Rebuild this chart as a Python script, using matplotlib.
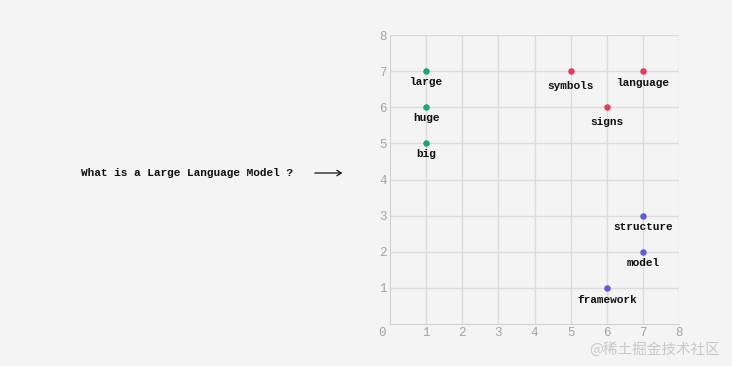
import matplotlib
matplotlib.use("Agg")
import matplotlib.pyplot as plt

words = ["large", "huge", "big", "symbols", "language", "signs",
         "structure", "model", "framework"]
x_vals = [1, 1, 1, 5, 7, 6, 7, 7, 6]
y_vals = [7, 6, 5, 7, 7, 6, 3, 2, 1]
groups = ["size", "size", "size", "lang", "lang", "lang",
          "struct", "struct", "struct"]
group_colors = {"size": "#17a77b", "lang": "#e63b5c", "struct": "#5d5ce0"}
ticks = [1, 2, 3, 4, 5, 6, 7, 8]
title_text = "What is a Large Language Model ?"
watermark = "@稀土掘金技术社区"

# label offsets below each point (pixels)
label_dy = [-11, -11, -11, -15, -12, -15, -11, -11, -12]

bg = "#f4f4f4"
mono = ["Liberation Mono", "DejaVu Sans Mono"]

fig = plt.figure(figsize=(7.32, 3.66), dpi=100, facecolor=bg)
ax = fig.add_axes([390/732, 1-324/366, 289/732, 289/366])
ax.set_facecolor(bg)
ax.set_xlim(0, 8)
ax.set_ylim(0, 8)
ax.set_xticks(ticks)
ax.set_yticks(ticks)
ax.grid(True, color="#dcdcdc", linewidth=1)
ax.set_axisbelow(True)
for s in ["top", "right"]:
    ax.spines[s].set_visible(False)
for s in ["left", "bottom"]:
    ax.spines[s].set_color("#d0d0d0")
ax.tick_params(length=0, colors="#a3a3a3", labelsize=9, pad=2.5)
for lab in ax.get_xticklabels() + ax.get_yticklabels():
    lab.set_fontfamily(mono)
ax.text(-0.22, -0.25, "0", fontsize=9, color="#a3a3a3", family=mono,
        ha="center", va="center", transform=ax.transData, clip_on=False)

for w, x, y, g, dy in zip(words, x_vals, y_vals, groups, label_dy):
    ax.scatter([x], [y], s=22, color=group_colors[g], zorder=3, linewidths=0)
    ax.annotate(w, (x, y), xytext=(0, dy*72/100), textcoords="offset points",
                ha="center", va="center", fontsize=8, family=mono,
                color="#111111", fontweight="bold", annotation_clip=False)

fig.text(81/732, 1-173/366, title_text, fontsize=8, family=mono,
         color="#111111", ha="left", va="center", fontweight="bold")
fig.add_artist(matplotlib.patches.FancyArrowPatch(
    (312/732, 1-173/366), (345/732, 1-173/366), transform=fig.transFigure,
    arrowstyle="->,head_length=3,head_width=2", color="#111111", lw=0.9,
    mutation_scale=1))

fig.text(720/732, 1-349/366, watermark, fontsize=10.5,
         family=["Noto Sans CJK SC", "DejaVu Sans"], color="#c8c8c8",
         ha="right", va="center")

fig.savefig("out.png", dpi=100, facecolor=bg)
